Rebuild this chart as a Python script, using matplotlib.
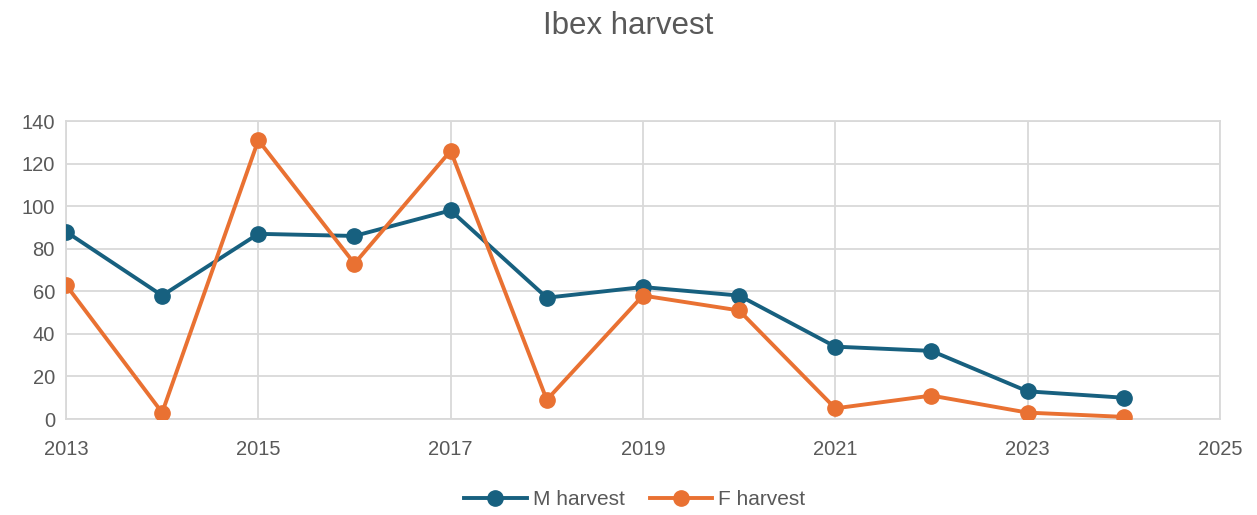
import matplotlib
matplotlib.use("Agg")
import matplotlib.pyplot as plt

years = [2013, 2014, 2015, 2016, 2017, 2018, 2019, 2020, 2021, 2022, 2023, 2024]
m_harvest = [88, 58, 87, 86, 98, 57, 62, 58, 34, 32, 13, 10]
f_harvest = [63, 3, 131, 73, 126, 9, 58, 51, 5, 11, 3, 1]
x_ticks = [2013, 2015, 2017, 2019, 2021, 2023, 2025]
y_ticks = [0, 20, 40, 60, 80, 100, 120, 140]

plt.rcParams['font.family'] = ['Liberation Sans', 'DejaVu Sans']
text_col = '#595959'

fig = plt.figure(figsize=(12.57, 5.15), dpi=100)
ax = fig.add_axes([0.0525, 0.1864, 0.918, 0.5786])

ax.plot(years, m_harvest, color='#17607f', lw=2.8, marker='o', ms=11, label='M harvest', zorder=3)
ax.plot(years, f_harvest, color='#e97132', lw=2.8, marker='o', ms=11, label='F harvest', zorder=3)

ax.set_xlim(2013, 2025)
ax.set_ylim(0, 140)
ax.set_xticks(x_ticks)
ax.set_yticks(y_ticks)
ax.grid(True, color='#d9d9d9', lw=1.3)
ax.set_axisbelow(True)
for s in ax.spines.values():
    s.set_color('#d9d9d9')
    s.set_linewidth(1.3)
ax.tick_params(length=0, labelsize=14.5, colors=text_col, pad=8)
ax.tick_params(axis='x', pad=15)

fig.suptitle('Ibex harvest', y=0.978, fontsize=22.5, color=text_col, va='top')
fig.legend(loc='center', bbox_to_anchor=(0.505, 0.03), ncol=2, frameon=False,
           fontsize=15, labelcolor=text_col, handlelength=3, columnspacing=1.2,
           handletextpad=0.3)

fig.savefig('out.png', dpi=100)
